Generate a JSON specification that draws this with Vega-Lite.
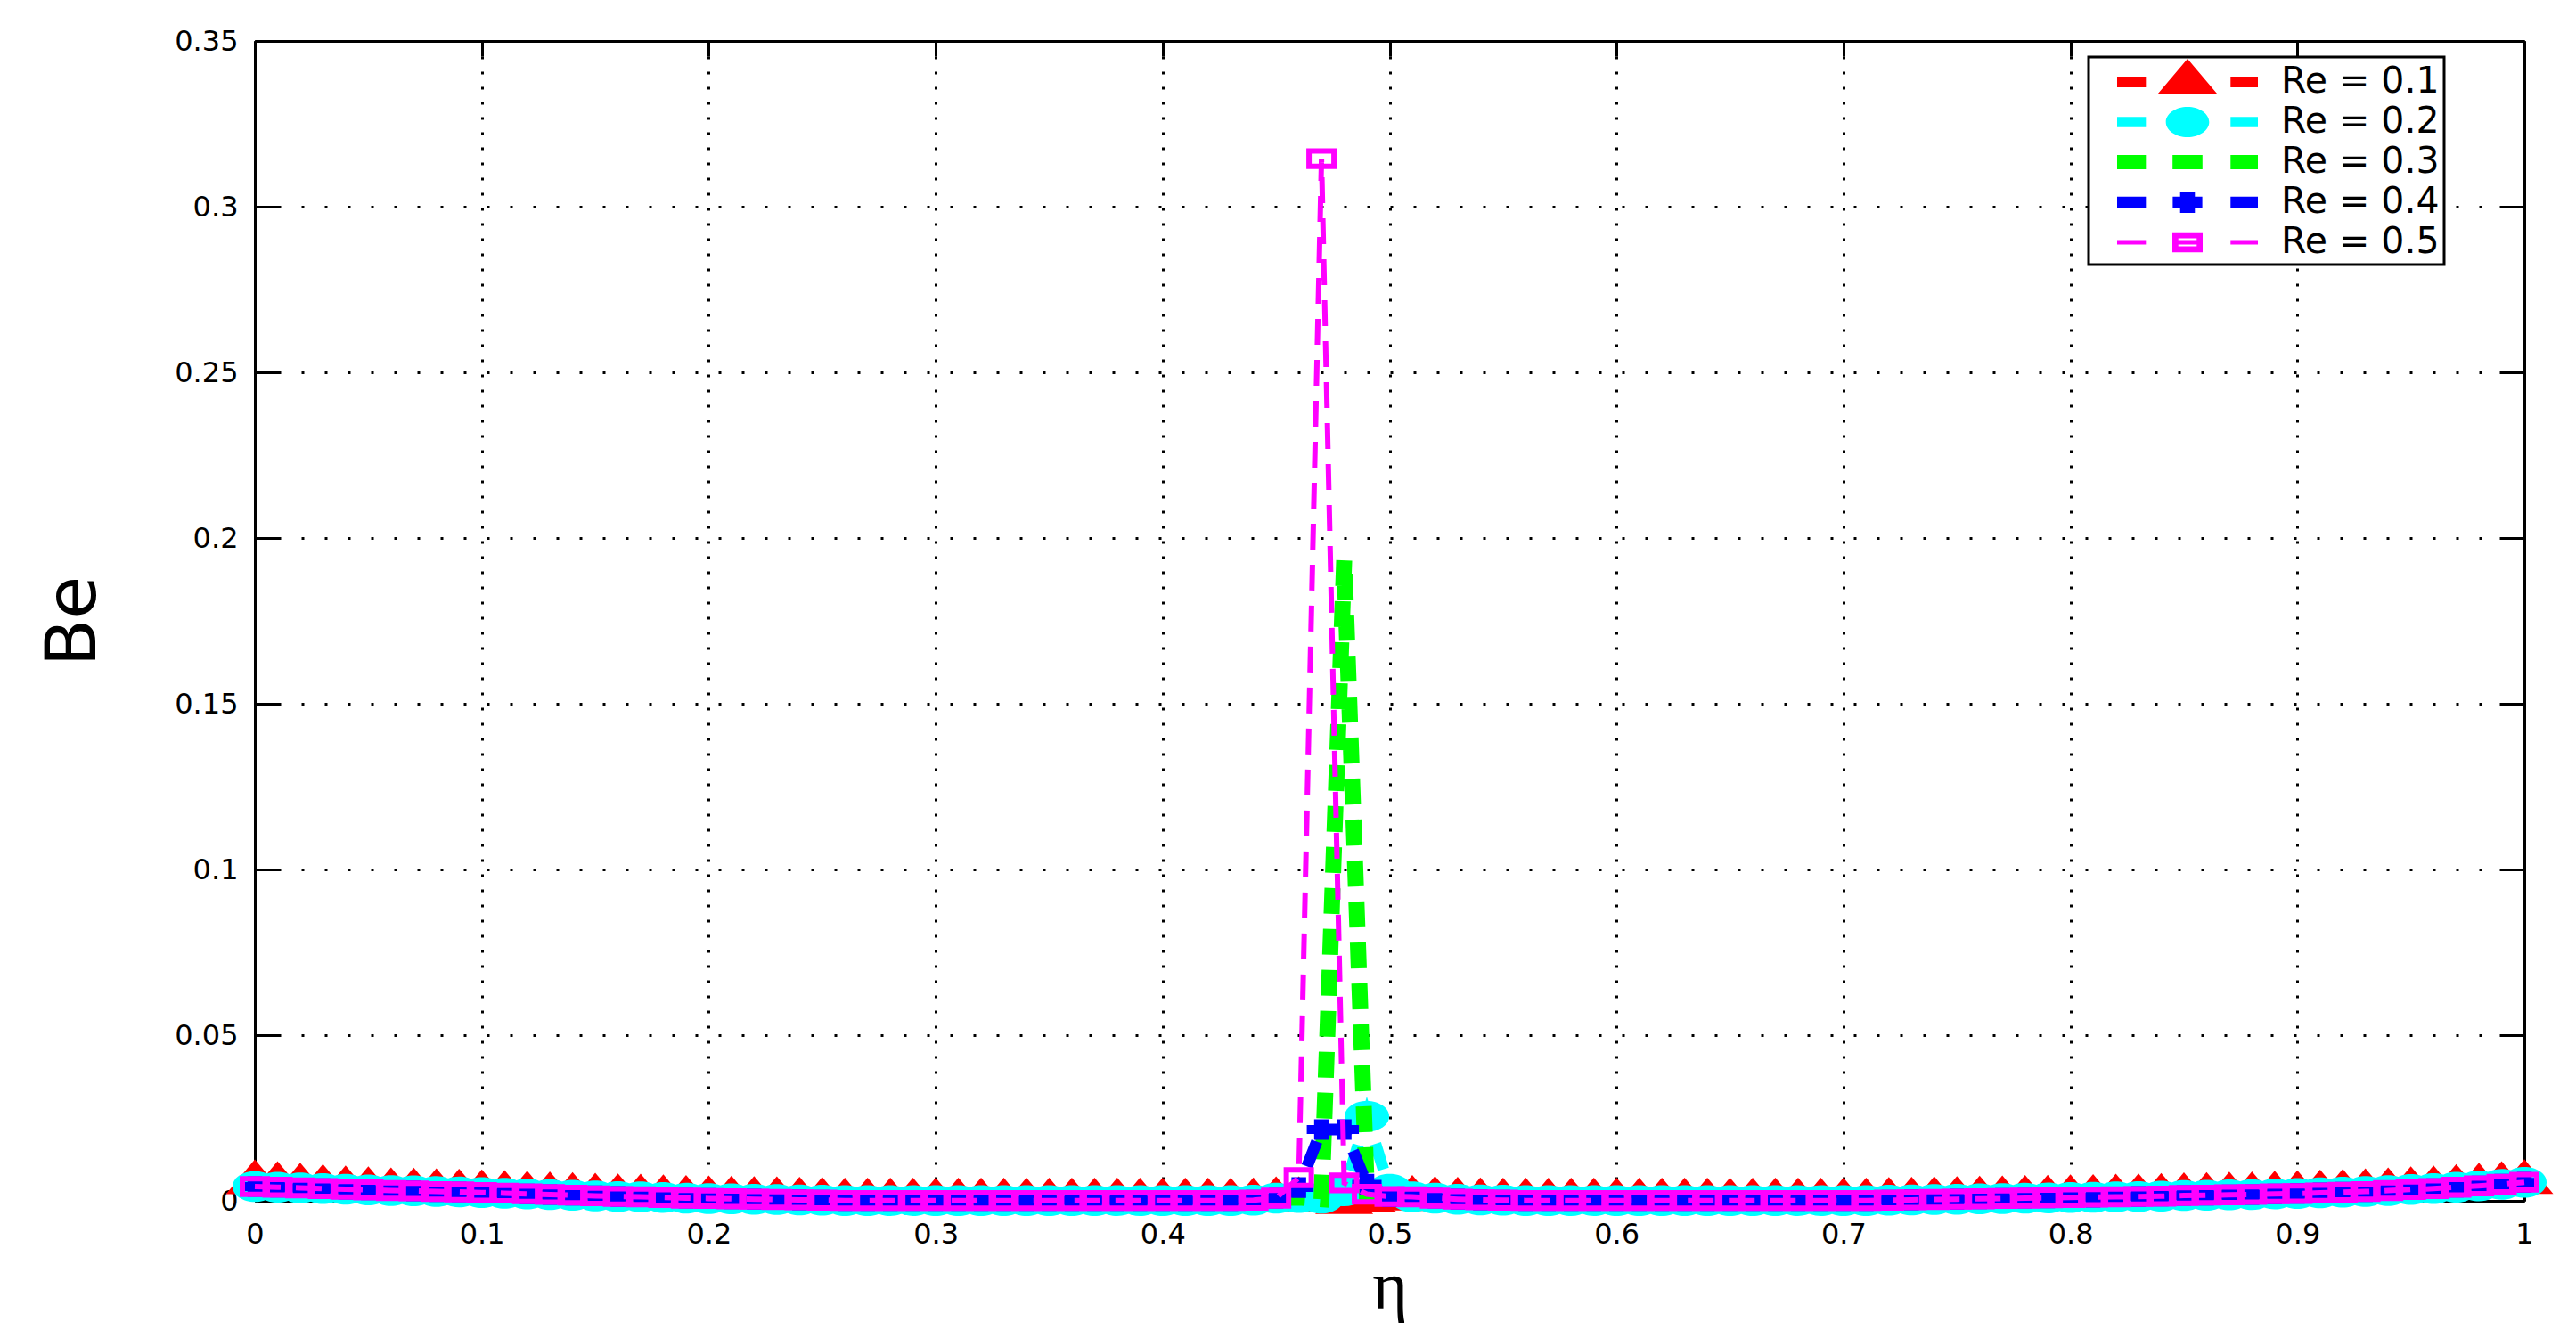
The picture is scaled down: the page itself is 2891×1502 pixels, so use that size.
{
  "$schema": "https://vega.github.io/schema/vega-lite/v6.json",
  "width": 2547,
  "height": 1302,
  "autosize": {"type": "none"},
  "padding": {"left": 286, "top": 46, "right": 58, "bottom": 154},
  "background": "white",
  "config": {
    "view": {"stroke": null},
    "legend": {"strokeWidth": 3}
  },
  "data": {
    "values": [
      {"eta": 0, "r1": 0.0055, "r2": 0.0043, "r3": 0.0043, "r4": 0.0043, "r5": 0.0043},
      {"eta": 0.01, "r1": 0.005, "r2": 0.0041, "r3": 0.0041, "r4": 0.0041, "r5": 0.0041},
      {"eta": 0.02, "r1": 0.0045, "r2": 0.0039, "r3": 0.0039, "r4": 0.0039, "r5": 0.0039},
      {"eta": 0.03, "r1": 0.0041, "r2": 0.0037, "r3": 0.0037, "r4": 0.0037, "r5": 0.0037},
      {"eta": 0.04, "r1": 0.0037, "r2": 0.0035, "r3": 0.0035, "r4": 0.0035, "r5": 0.0035},
      {"eta": 0.05, "r1": 0.0034, "r2": 0.0033, "r3": 0.0033, "r4": 0.0033, "r5": 0.0033},
      {"eta": 0.06, "r1": 0.0031, "r2": 0.0031, "r3": 0.0031, "r4": 0.0031, "r5": 0.0031},
      {"eta": 0.07, "r1": 0.003, "r2": 0.003, "r3": 0.003, "r4": 0.003, "r5": 0.003},
      {"eta": 0.08, "r1": 0.0028, "r2": 0.0028, "r3": 0.0028, "r4": 0.0028, "r5": 0.0028},
      {"eta": 0.09, "r1": 0.0027, "r2": 0.0027, "r3": 0.0027, "r4": 0.0027, "r5": 0.0027},
      {"eta": 0.1, "r1": 0.0025, "r2": 0.0025, "r3": 0.0025, "r4": 0.0025, "r5": 0.0025},
      {"eta": 0.11, "r1": 0.0023, "r2": 0.0023, "r3": 0.0023, "r4": 0.0023, "r5": 0.0023},
      {"eta": 0.12, "r1": 0.0021, "r2": 0.0021, "r3": 0.0021, "r4": 0.0021, "r5": 0.0021},
      {"eta": 0.13, "r1": 0.0019, "r2": 0.0019, "r3": 0.0019, "r4": 0.0019, "r5": 0.0019},
      {"eta": 0.14, "r1": 0.0017, "r2": 0.0017, "r3": 0.0017, "r4": 0.0017, "r5": 0.0017},
      {"eta": 0.15, "r1": 0.0015, "r2": 0.0015, "r3": 0.0015, "r4": 0.0015, "r5": 0.0015},
      {"eta": 0.16, "r1": 0.0013, "r2": 0.0013, "r3": 0.0013, "r4": 0.0013, "r5": 0.0013},
      {"eta": 0.17, "r1": 0.0012, "r2": 0.0012, "r3": 0.0012, "r4": 0.0012, "r5": 0.0012},
      {"eta": 0.18, "r1": 0.001, "r2": 0.001, "r3": 0.001, "r4": 0.001, "r5": 0.001},
      {"eta": 0.19, "r1": 0.0008, "r2": 0.0008, "r3": 0.0008, "r4": 0.0008, "r5": 0.0008},
      {"eta": 0.2, "r1": 0.0007, "r2": 0.0007, "r3": 0.0007, "r4": 0.0007, "r5": 0.0007},
      {"eta": 0.21, "r1": 0.0006, "r2": 0.0006, "r3": 0.0006, "r4": 0.0006, "r5": 0.0006},
      {"eta": 0.22, "r1": 0.0005, "r2": 0.0005, "r3": 0.0005, "r4": 0.0005, "r5": 0.0005},
      {"eta": 0.23, "r1": 0.0004, "r2": 0.0004, "r3": 0.0004, "r4": 0.0004, "r5": 0.0004},
      {"eta": 0.24, "r1": 0.0003, "r2": 0.0003, "r3": 0.0003, "r4": 0.0003, "r5": 0.0003},
      {"eta": 0.25, "r1": 0.0002, "r2": 0.0002, "r3": 0.0002, "r4": 0.0002, "r5": 0.0002},
      {"eta": 0.26, "r1": 0, "r2": 0.0001, "r3": 0.0001, "r4": 0.0001, "r5": 0.0001},
      {"eta": 0.27, "r1": 0, "r2": 0.0001, "r3": 0.0001, "r4": 0.0001, "r5": 0.0001},
      {"eta": 0.28, "r1": 0, "r2": 0.0001, "r3": 0.0001, "r4": 0.0001, "r5": 0.0001},
      {"eta": 0.29, "r1": 0, "r2": 0.0001, "r3": 0.0001, "r4": 0.0001, "r5": 0.0001},
      {"eta": 0.3, "r1": 0, "r2": 0.0001, "r3": 0.0001, "r4": 0.0001, "r5": 0.0001},
      {"eta": 0.31, "r1": 0, "r2": 0.0001, "r3": 0.0001, "r4": 0.0001, "r5": 0.0001},
      {"eta": 0.32, "r1": 0, "r2": 0.0001, "r3": 0.0001, "r4": 0.0001, "r5": 0.0001},
      {"eta": 0.33, "r1": 0, "r2": 0.0001, "r3": 0.0001, "r4": 0.0001, "r5": 0.0001},
      {"eta": 0.34, "r1": 0, "r2": 0.0001, "r3": 0.0001, "r4": 0.0001, "r5": 0.0001},
      {"eta": 0.35, "r1": 0, "r2": 0.0001, "r3": 0.0001, "r4": 0.0001, "r5": 0.0001},
      {"eta": 0.36, "r1": 0, "r2": 0.0001, "r3": 0.0001, "r4": 0.0001, "r5": 0.0001},
      {"eta": 0.37, "r1": 0, "r2": 0.0001, "r3": 0.0001, "r4": 0.0001, "r5": 0.0001},
      {"eta": 0.38, "r1": 0, "r2": 0.0001, "r3": 0.0001, "r4": 0.0001, "r5": 0.0001},
      {"eta": 0.39, "r1": 0, "r2": 0.0001, "r3": 0.0001, "r4": 0.0001, "r5": 0.0001},
      {"eta": 0.4, "r1": 0, "r2": 0.0001, "r3": 0.0001, "r4": 0.0001, "r5": 0.0001},
      {"eta": 0.41, "r1": 0, "r2": 0.0001, "r3": 0.0001, "r4": 0.0001, "r5": 0.0001},
      {"eta": 0.42, "r1": 0, "r2": 0.0001, "r3": 0.0001, "r4": 0.0001, "r5": 0.0001},
      {"eta": 0.43, "r1": 0, "r2": 0.0001, "r3": 0.0001, "r4": 0.0001, "r5": 0.0001},
      {"eta": 0.44, "r1": 0.0001, "r2": 0.0002, "r3": 0.0002, "r4": 0.0002, "r5": 0.0002},
      {"eta": 0.45, "r1": 0.0004, "r2": 0.0008, "r3": 0.0008, "r4": 0.0008, "r5": 0.0008},
      {"eta": 0.46, "r1": 0.0004, "r2": 0.001, "r3": 0.001, "r4": 0.004, "r5": 0.007},
      {"eta": 0.47, "r1": 0.0002, "r2": 0.0008, "r3": 0.0005, "r4": 0.0215, "r5": 0.3145},
      {"eta": 0.48, "r1": -0.0005, "r2": 0.003, "r3": 0.1935, "r4": 0.0215, "r5": 0.0054},
      {"eta": 0.49, "r1": 0.0003, "r2": 0.0255, "r3": 0.002, "r4": 0.005, "r5": 0.002},
      {"eta": 0.5, "r1": 0.0006, "r2": 0.0035, "r3": 0.0012, "r4": 0.0012, "r5": 0.0013},
      {"eta": 0.51, "r1": 0.0008, "r2": 0.0012, "r3": 0.0012, "r4": 0.0012, "r5": 0.0012},
      {"eta": 0.52, "r1": 0.0005, "r2": 0.0008, "r3": 0.0008, "r4": 0.0008, "r5": 0.0008},
      {"eta": 0.53, "r1": 0.0003, "r2": 0.0005, "r3": 0.0005, "r4": 0.0005, "r5": 0.0005},
      {"eta": 0.54, "r1": 0.0001, "r2": 0.0003, "r3": 0.0003, "r4": 0.0003, "r5": 0.0003},
      {"eta": 0.55, "r1": 0, "r2": 0.0002, "r3": 0.0002, "r4": 0.0002, "r5": 0.0002},
      {"eta": 0.56, "r1": 0, "r2": 0.0001, "r3": 0.0001, "r4": 0.0001, "r5": 0.0001},
      {"eta": 0.57, "r1": 0, "r2": 0.0001, "r3": 0.0001, "r4": 0.0001, "r5": 0.0001},
      {"eta": 0.58, "r1": 0, "r2": 0.0001, "r3": 0.0001, "r4": 0.0001, "r5": 0.0001},
      {"eta": 0.59, "r1": 0, "r2": 0.0001, "r3": 0.0001, "r4": 0.0001, "r5": 0.0001},
      {"eta": 0.6, "r1": 0, "r2": 0.0001, "r3": 0.0001, "r4": 0.0001, "r5": 0.0001},
      {"eta": 0.61, "r1": 0, "r2": 0.0001, "r3": 0.0001, "r4": 0.0001, "r5": 0.0001},
      {"eta": 0.62, "r1": 0, "r2": 0.0001, "r3": 0.0001, "r4": 0.0001, "r5": 0.0001},
      {"eta": 0.63, "r1": 0, "r2": 0.0001, "r3": 0.0001, "r4": 0.0001, "r5": 0.0001},
      {"eta": 0.64, "r1": 0, "r2": 0.0001, "r3": 0.0001, "r4": 0.0001, "r5": 0.0001},
      {"eta": 0.65, "r1": 0, "r2": 0.0001, "r3": 0.0001, "r4": 0.0001, "r5": 0.0001},
      {"eta": 0.66, "r1": 0, "r2": 0.0001, "r3": 0.0001, "r4": 0.0001, "r5": 0.0001},
      {"eta": 0.67, "r1": 0, "r2": 0.0001, "r3": 0.0001, "r4": 0.0001, "r5": 0.0001},
      {"eta": 0.68, "r1": 0, "r2": 0.0001, "r3": 0.0001, "r4": 0.0001, "r5": 0.0001},
      {"eta": 0.69, "r1": 0, "r2": 0.0001, "r3": 0.0001, "r4": 0.0001, "r5": 0.0001},
      {"eta": 0.7, "r1": 0, "r2": 0.0001, "r3": 0.0001, "r4": 0.0001, "r5": 0.0001},
      {"eta": 0.71, "r1": 0, "r2": 0.0001, "r3": 0.0001, "r4": 0.0001, "r5": 0.0001},
      {"eta": 0.72, "r1": 0.0002, "r2": 0.0002, "r3": 0.0002, "r4": 0.0002, "r5": 0.0002},
      {"eta": 0.73, "r1": 0.0003, "r2": 0.0003, "r3": 0.0003, "r4": 0.0003, "r5": 0.0003},
      {"eta": 0.74, "r1": 0.0004, "r2": 0.0004, "r3": 0.0004, "r4": 0.0004, "r5": 0.0004},
      {"eta": 0.75, "r1": 0.0005, "r2": 0.0005, "r3": 0.0005, "r4": 0.0005, "r5": 0.0005},
      {"eta": 0.76, "r1": 0.0006, "r2": 0.0006, "r3": 0.0006, "r4": 0.0006, "r5": 0.0006},
      {"eta": 0.77, "r1": 0.0007, "r2": 0.0007, "r3": 0.0007, "r4": 0.0007, "r5": 0.0007},
      {"eta": 0.78, "r1": 0.0008, "r2": 0.0008, "r3": 0.0008, "r4": 0.0008, "r5": 0.0008},
      {"eta": 0.79, "r1": 0.0009, "r2": 0.0009, "r3": 0.0009, "r4": 0.0009, "r5": 0.0009},
      {"eta": 0.8, "r1": 0.001, "r2": 0.001, "r3": 0.001, "r4": 0.001, "r5": 0.001},
      {"eta": 0.81, "r1": 0.0011, "r2": 0.0011, "r3": 0.0011, "r4": 0.0011, "r5": 0.0011},
      {"eta": 0.82, "r1": 0.0012, "r2": 0.0012, "r3": 0.0012, "r4": 0.0012, "r5": 0.0012},
      {"eta": 0.83, "r1": 0.0013, "r2": 0.0013, "r3": 0.0013, "r4": 0.0013, "r5": 0.0013},
      {"eta": 0.84, "r1": 0.0014, "r2": 0.0014, "r3": 0.0014, "r4": 0.0014, "r5": 0.0014},
      {"eta": 0.85, "r1": 0.0016, "r2": 0.0016, "r3": 0.0016, "r4": 0.0016, "r5": 0.0016},
      {"eta": 0.86, "r1": 0.0017, "r2": 0.0017, "r3": 0.0017, "r4": 0.0017, "r5": 0.0017},
      {"eta": 0.87, "r1": 0.0018, "r2": 0.0018, "r3": 0.0018, "r4": 0.0018, "r5": 0.0018},
      {"eta": 0.88, "r1": 0.0019, "r2": 0.0019, "r3": 0.0019, "r4": 0.0019, "r5": 0.0019},
      {"eta": 0.89, "r1": 0.0021, "r2": 0.0021, "r3": 0.0021, "r4": 0.0021, "r5": 0.0021},
      {"eta": 0.9, "r1": 0.0022, "r2": 0.0022, "r3": 0.0022, "r4": 0.0022, "r5": 0.0022},
      {"eta": 0.91, "r1": 0.0024, "r2": 0.0024, "r3": 0.0024, "r4": 0.0024, "r5": 0.0024},
      {"eta": 0.92, "r1": 0.0026, "r2": 0.0026, "r3": 0.0026, "r4": 0.0026, "r5": 0.0026},
      {"eta": 0.93, "r1": 0.0028, "r2": 0.0028, "r3": 0.0028, "r4": 0.0028, "r5": 0.0028},
      {"eta": 0.94, "r1": 0.0031, "r2": 0.0031, "r3": 0.0031, "r4": 0.0031, "r5": 0.0031},
      {"eta": 0.95, "r1": 0.0034, "r2": 0.0034, "r3": 0.0034, "r4": 0.0034, "r5": 0.0034},
      {"eta": 0.96, "r1": 0.0037, "r2": 0.0037, "r3": 0.0037, "r4": 0.0037, "r5": 0.0037},
      {"eta": 0.97, "r1": 0.0041, "r2": 0.0041, "r3": 0.0041, "r4": 0.0041, "r5": 0.0041},
      {"eta": 0.98, "r1": 0.0045, "r2": 0.0045, "r3": 0.0045, "r4": 0.0045, "r5": 0.0045},
      {"eta": 0.99, "r1": 0.005, "r2": 0.005, "r3": 0.005, "r4": 0.005, "r5": 0.005},
      {"eta": 1, "r1": 0.0056, "r2": 0.0056, "r3": 0.0056, "r4": 0.0056, "r5": 0.0056}
    ]
  },
  "layer": [
    {
      "layer": [
        {
          "mark": {"type": "line", "strokeWidth": 13, "strokeDash": [30, 18]},
          "encoding": {
            "x": {
              "field": "eta", "type": "quantitative", "title": "η",
              "scale": {"domain": [0, 1], "nice": false, "zero": false},
              "axis": {
                "values": [0, 0.1, 0.2, 0.3, 0.4, 0.5, 0.6, 0.7, 0.8, 0.9, 1],
                "format": ".1~f",
                "labelFont": "DejaVu Sans", "labelFontSize": 32, "labelColor": "black",
                "labelPadding": 39, "labelFlush": false,
                "domainColor": "black", "domainWidth": 3,
                "tickColor": "black", "tickWidth": 3, "tickSize": -17,
                "grid": true, "gridColor": "black", "gridWidth": 3, "gridDash": [3, 14], "gridOpacity": 1,
                "titleFont": "Liberation Serif", "titleFontSize": 76, "titleFontWeight": "normal",
                "titleColor": "black", "titleBaseline": "alphabetic", "titleY": 120
              }
            },
            "y": {
              "field": "r1", "type": "quantitative", "title": "Be",
              "scale": {"domain": [0, 0.35], "nice": false},
              "axis": {
                "values": [0, 0.05, 0.1, 0.15, 0.2, 0.25, 0.3, 0.35],
                "format": ".2~f",
                "labelFont": "DejaVu Sans", "labelFontSize": 32, "labelColor": "black",
                "labelPadding": 47, "labelFlush": false,
                "domainColor": "black", "domainWidth": 3,
                "tickColor": "black", "tickWidth": 3, "tickSize": -28,
                "grid": true, "gridColor": "black", "gridWidth": 3, "gridDash": [3, 23], "gridOpacity": 1,
                "titleFont": "DejaVu Sans", "titleFontSize": 78, "titleFontWeight": "normal",
                "titleColor": "black", "titleAngle": 270, "titleAlign": "center",
                "titleBaseline": "alphabetic", "titleX": -180, "titleY": 651
              }
            },
            "color": {
              "datum": "Re = 0.1",
              "scale": {
                "domain": ["Re = 0.1", "Re = 0.2", "Re = 0.3", "Re = 0.4", "Re = 0.5"],
                "range": ["#ff0000", "#00ffff", "#00ff00", "#0000ff", "#ff00ff"]
              },
              "legend": {
                "title": null,
                "orient": "none",
                "legendX": 2058,
                "legendY": 18,
                "strokeColor": "black",
                "fillColor": "white",
                "padding": 5,
                "symbolSize": 2116,
                "symbolOffset": 83,
                "labelOffset": 82,
                "rowPadding": 2,
                "labelLimit": 400,
                "labelFont": "DejaVu Sans",
                "labelFontSize": 41,
                "labelColor": "black",
                "encode": {
                  "symbols": {
                    "update": {
                      "shape": {"signal": "datum.value === 'Re = 0.1' ? 'M-3.435,-0.26H-2.03V0.26H-3.435Z M2.1,-0.26H3.435V0.26H2.1Z M0,-1.13L1.435,0.565L-1.435,0.565Z' : datum.value === 'Re = 0.2' ? 'M-3.435,-0.254H-2.03V0.254H-3.435Z M2.1,-0.254H3.435V0.254H2.1Z M-1.057,0A1.057,0.739 0 1,1 1.057,0A1.057,0.739 0 1,1 -1.057,0Z' : datum.value === 'Re = 0.3' ? 'M-3.435,-0.343H-2.03V0.343H-3.435Z M-0.73,-0.343H0.73V0.343H-0.73Z M2.1,-0.343H3.435V0.343H2.1Z' : datum.value === 'Re = 0.4' ? 'M-3.435,-0.267H-2.03V0.267H-3.435Z M2.1,-0.267H3.435V0.267H2.1Z M-0.722,-0.267H-0.36V-0.52H0.36V-0.267H0.722V0.267H0.36V0.52H-0.36V0.267H-0.722Z' : 'M-3.435,-0.109H-2.03V0.109H-3.435Z M2.1,-0.109H3.435V0.109H2.1Z M-0.739,-0.491H0.739V0.491H-0.739Z M-0.448,-0.2V-0.109H0.448V-0.2Z M-0.448,0.109V0.2H0.448V0.109Z'"},
                      "fill": {"signal": "datum.value === 'Re = 0.1' ? '#ff0000' : datum.value === 'Re = 0.2' ? '#00ffff' : datum.value === 'Re = 0.3' ? '#00ff00' : datum.value === 'Re = 0.4' ? '#0000ff' : '#ff00ff'"},
                      "fillOpacity": {"value": 1},
                      "opacity": {"value": 1},
                      "stroke": {"value": "transparent"},
                      "strokeWidth": {"value": 0}
                    }
                  }
                }
              }
            }
          }
        },
        {
          "mark": {"type": "point", "shape": "M0,-0.8L1,0.4L-1,0.4Z", "size": 4225, "filled": true, "color": "#ff0000", "opacity": 1, "strokeWidth": 0},
          "encoding": {
            "x": {"field": "eta", "type": "quantitative", "title": "η"},
            "y": {"field": "r1", "type": "quantitative", "title": "Be"}
          }
        },
        {
          "mark": {"type": "line", "strokeWidth": 13, "strokeDash": [30, 18]},
          "encoding": {
            "x": {"field": "eta", "type": "quantitative", "title": "η"},
            "y": {"field": "r2", "type": "quantitative", "title": "Be"},
            "color": {"datum": "Re = 0.2"}
          }
        },
        {
          "mark": {"type": "point", "shape": "M-1,0A1,0.69 0 1,1 1,0A1,0.69 0 1,1 -1,0Z", "size": 2500, "filled": true, "color": "#00ffff", "opacity": 1, "strokeWidth": 0},
          "encoding": {
            "x": {"field": "eta", "type": "quantitative", "title": "η"},
            "y": {"field": "r2", "type": "quantitative", "title": "Be"}
          }
        },
        {
          "mark": {"type": "line", "strokeWidth": 18, "strokeDash": [29, 17]},
          "encoding": {
            "x": {"field": "eta", "type": "quantitative", "title": "η"},
            "y": {"field": "r3", "type": "quantitative", "title": "Be"},
            "color": {"datum": "Re = 0.3"}
          }
        },
        {
          "mark": {"type": "line", "strokeWidth": 13, "strokeDash": [30, 18]},
          "encoding": {
            "x": {"field": "eta", "type": "quantitative", "title": "η"},
            "y": {"field": "r4", "type": "quantitative", "title": "Be"},
            "color": {"datum": "Re = 0.4"}
          }
        },
        {
          "mark": {"type": "point", "shape": "M-1,-0.3H-0.5V-0.7H0.5V-0.3H1V0.3H0.5V0.7H-0.5V0.3H-1Z", "size": 1089, "filled": true, "color": "#0000ff", "opacity": 1, "strokeWidth": 0},
          "encoding": {
            "x": {"field": "eta", "type": "quantitative", "title": "η"},
            "y": {"field": "r4", "type": "quantitative", "title": "Be"}
          }
        },
        {
          "mark": {"type": "line", "strokeWidth": 6, "strokeDash": [29, 17]},
          "encoding": {
            "x": {"field": "eta", "type": "quantitative", "title": "η"},
            "y": {"field": "r5", "type": "quantitative", "title": "Be"},
            "color": {"datum": "Re = 0.5"}
          }
        },
        {
          "mark": {"type": "point", "shape": "M-1,-0.62H1V0.62H-1Z", "size": 784, "filled": false, "color": "#ff00ff", "opacity": 1, "strokeWidth": 6},
          "encoding": {
            "x": {"field": "eta", "type": "quantitative", "title": "η"},
            "y": {"field": "r5", "type": "quantitative", "title": "Be"}
          }
        }
      ]
    },
    {
      "mark": {"type": "point", "opacity": 0},
      "encoding": {
        "x": {
          "field": "eta", "type": "quantitative",
          "scale": {"domain": [0, 1], "nice": false, "zero": false},
          "axis": {
            "orient": "top", "title": null, "labels": false, "grid": false,
            "values": [0, 0.1, 0.2, 0.3, 0.4, 0.5, 0.6, 0.7, 0.8, 0.9, 1],
            "domainColor": "black", "domainWidth": 3,
            "tickColor": "black", "tickWidth": 3, "tickSize": -17
          }
        },
        "y": {
          "field": "r5", "type": "quantitative",
          "scale": {"domain": [0, 0.35], "nice": false},
          "axis": {
            "orient": "right", "title": null, "labels": false, "grid": false,
            "values": [0, 0.05, 0.1, 0.15, 0.2, 0.25, 0.3, 0.35],
            "domainColor": "black", "domainWidth": 3,
            "tickColor": "black", "tickWidth": 3, "tickSize": -28
          }
        }
      }
    }
  ],
  "resolve": {"axis": {"x": "independent", "y": "independent"}}
}
